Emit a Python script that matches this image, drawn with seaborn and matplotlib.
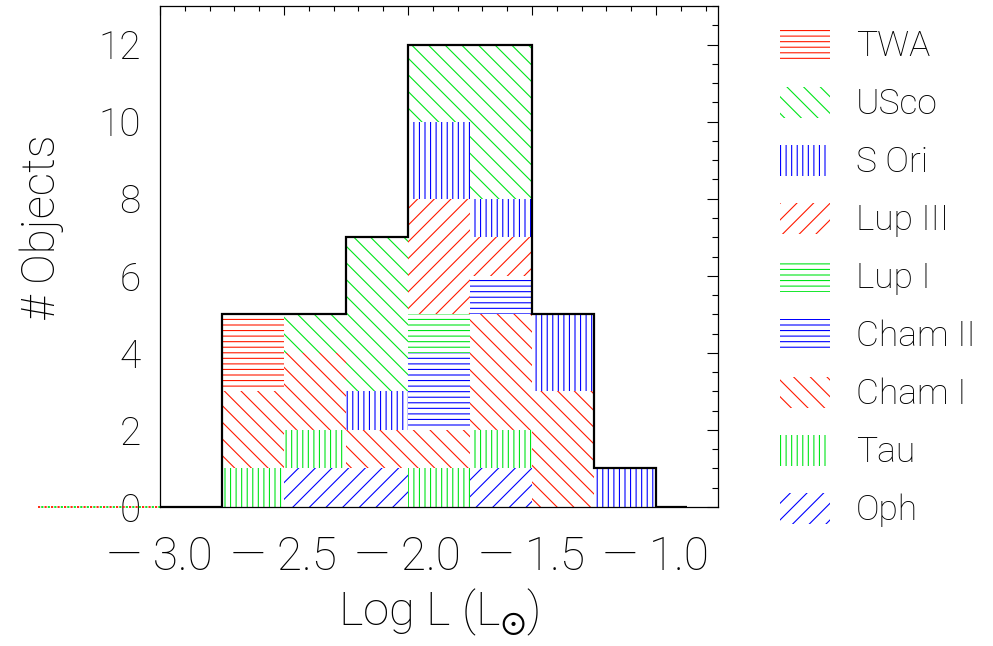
import numpy as np
import pandas as pd
import matplotlib
matplotlib.use("Agg")
import matplotlib.pyplot as plt
import seaborn as sns
from matplotlib.patches import Patch
from matplotlib.ticker import MultipleLocator

# ---------------- data ----------------
bin_edges = [-2.75, -2.5, -2.25, -2.0, -1.75, -1.5, -1.25, -1.0]
regions = ["TWA", "USco", "S Ori", "Lup III", "Lup I", "Cham II", "Cham I", "Tau", "Oph"]
twa   = [2, 0, 0, 0, 0, 0, 0]
usco  = [0, 1, 4, 2, 4, 0, 0]
sori  = [0, 0, 1, 2, 1, 2, 1]
lup3  = [0, 0, 0, 3, 1, 0, 0]
lup1  = [0, 0, 0, 1, 0, 0, 0]
cham2 = [0, 0, 0, 2, 1, 0, 0]
cham1 = [2, 2, 1, 1, 3, 3, 0]
tau   = [1, 1, 0, 1, 1, 0, 0]
oph   = [0, 1, 1, 0, 1, 0, 0]
counts = [twa, usco, sori, lup3, lup1, cham2, cham1, tau, oph]
x_ticks = [-3.0, -2.5, -2.0, -1.5, -1.0]
y_ticks = [0, 2, 4, 6, 8, 10, 12]

RED, GREEN, BLUE = "#ff1a00", "#00e51a", "#0000ff"
colors = [RED, GREEN, BLUE, RED, GREEN, BLUE, RED, GREEN, BLUE]
hatches = ["---", "\\\\", "|||", "//", "---", "---", "\\\\", "|||", "//"]

centers = [(a + b) / 2 for a, b in zip(bin_edges[:-1], bin_edges[1:])]
rows = []
for reg, vals in zip(regions, counts):
    for c, v in zip(centers, vals):
        rows.append({"logL": c, "count": v, "region": reg})
df = pd.DataFrame(rows)
totals = np.sum(np.array(counts), axis=0)

# ---------------- style ----------------
sns.set_theme(style="white")
plt.rcParams["font.family"] = ["Roboto", "DejaVu Sans"]
plt.rcParams["font.weight"] = "light"
plt.rcParams["axes.labelweight"] = "light"
plt.rcParams["hatch.linewidth"] = 0.8
plt.rcParams["axes.unicode_minus"] = True
for k in ["text.color", "axes.labelcolor", "xtick.color", "ytick.color"]:
    plt.rcParams[k] = "black"

fig = plt.figure(figsize=(9.93, 6.46), dpi=100)
ax = fig.add_axes([160 / 993, 1 - 507 / 646, (718 - 160) / 993, (507 - 6) / 646])

sns.histplot(data=df, x="logL", weights="count", hue="region", hue_order=regions,
             multiple="stack", bins=bin_edges, palette=dict(zip(regions, colors)),
             legend=False, ax=ax, alpha=1, shrink=1, element="bars")

# style bars: hatched, no fill
for cont in ax.containers:
    h = np.array([p.get_height() for p in cont])
    for reg, vals, col, hat in zip(regions, counts, colors, hatches):
        if np.allclose(h, vals):
            for p in cont:
                p.set_facecolor("none")
                p.set_edgecolor(col)
                p.set_hatch(hat)
                p.set_linewidth(0)
                p.set_alpha(1)
            break

# outline
out_edges = [-3.0] + bin_edges + [-0.875]
out_vals = [0] + list(totals) + [0]
ax.stairs(out_vals, out_edges, baseline=0, color="black", linewidth=1.6, zorder=5)

# dotted baseline outside axes
ax.plot([-3.49, -3.0], [0, 0], color=RED, ls=(0, (1.2, 2.4)), lw=1.3, clip_on=False)
ax.plot([-3.49, -3.0], [0, 0], color=GREEN, ls=(1.8, (1.2, 2.4)), lw=1.3, clip_on=False)

ax.set_xlim(-3.0, -0.75)
ax.set_ylim(0, 13)
ax.set_xticks(x_ticks)
ax.set_xticklabels([f"{v:.1f}".replace("-", "\u2014 ") for v in x_ticks])
ax.set_yticks(y_ticks)
ax.xaxis.set_minor_locator(MultipleLocator(0.1))
ax.yaxis.set_minor_locator(MultipleLocator(0.5))
ax.tick_params(axis="both", which="both", direction="in", top=True, right=True,
               color="black", width=0.8)
ax.tick_params(axis="x", which="major", length=6.5, labelsize=33, pad=20)
ax.tick_params(axis="x", which="minor", length=3.5)
ax.tick_params(axis="y", which="major", length=8, labelsize=28, pad=14)
ax.tick_params(axis="y", which="minor", length=4)
for s in ax.spines.values():
    s.set_color("black")
    s.set_linewidth(0.9)

ax.set_xlabel("Log L (L$_{\\odot}$)", fontsize=34, labelpad=6)
ax.set_ylabel("# Objects", fontsize=33)
ax.yaxis.set_label_coords(-0.172, 0.558)

handles = [Patch(facecolor="none", edgecolor=c, hatch=h, linewidth=0)
           for c, h in zip(colors, hatches)]
fig.legend(handles, regions, loc="upper left", bbox_to_anchor=(780 / 993, 1 - 29 / 646),
           frameon=False, fontsize=25.5, handlelength=1.42, handleheight=0.95,
           labelspacing=0.665, handletextpad=0.72, borderpad=0, borderaxespad=0)

fig.savefig("out.png", dpi=100)
